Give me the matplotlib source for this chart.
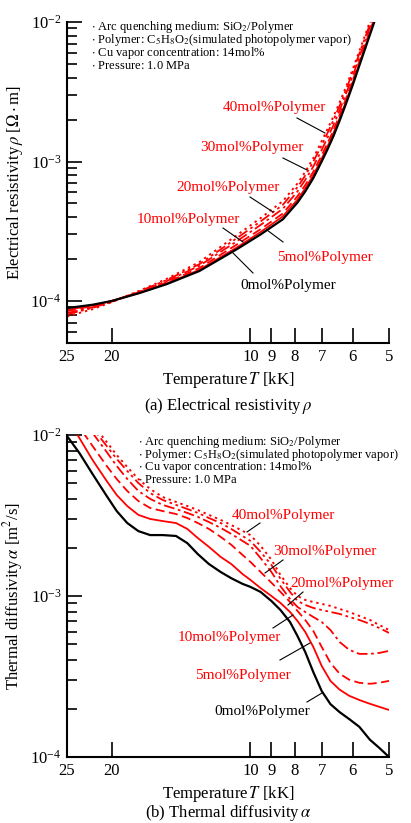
import numpy as np
import matplotlib
matplotlib.use("Agg")
import matplotlib.pyplot as plt
from matplotlib.lines import Line2D
from matplotlib.ticker import FixedLocator, FixedFormatter, NullLocator, LogLocator, LogFormatterMathtext, NullFormatter

plt.rcParams['font.family'] = ['Liberation Serif', 'DejaVu Serif']
plt.rcParams['mathtext.fontset'] = 'stix'

# ---- (a) electrical resistivity [Ohm m] ----
t_a = [25, 22, 20, 17.4, 15.2, 12.9, 10.7, 9.5, 8.5, 7.9, 7.6, 7.3, 7.0, 6.8, 6.6, 6.4, 6.2, 6.0, 5.8, 5.6, 5.4, 5.2]
rho_0 = [8.9e-5, 9.4e-5, 1.0e-4, 1.14e-4, 1.32e-4, 1.64e-4, 2.35e-4, 3.0e-4, 3.85e-4, 5.08e-4, 6.1e-4,
         7.6e-4, 1.0e-3, 1.22e-3, 1.52e-3, 1.96e-3, 2.59e-3, 3.5e-3, 4.86e-3, 6.82e-3, 9.67e-3, 1.39e-2]
rho_5 = [8.63e-5, 9.31e-5, 1.0e-4, 1.146e-4, 1.333e-4, 1.673e-4, 2.42e-4, 3.12e-4, 4.04e-4, 5.33e-4, 6.41e-4,
         7.98e-4, 1.05e-3, 1.28e-3, 1.60e-3, 2.04e-3, 2.69e-3, 3.64e-3, 5.01e-3, 7.02e-3, 9.96e-3, 1.42e-2]
rho_10 = [8.46e-5, 9.21e-5, 1.0e-4, 1.151e-4, 1.36e-4, 1.722e-4, 2.54e-4, 3.27e-4, 4.24e-4, 5.64e-4, 6.77e-4,
          8.44e-4, 1.11e-3, 1.35e-3, 1.67e-3, 2.16e-3, 2.82e-3, 3.78e-3, 5.20e-3, 7.30e-3, 1.025e-2, 1.46e-2]
rho_20 = [8.19e-5, 9.02e-5, 9.9e-5, 1.163e-4, 1.386e-4, 1.788e-4, 2.68e-4, 3.51e-4, 4.58e-4, 6.10e-4, 7.38e-4,
          9.20e-4, 1.21e-3, 1.48e-3, 1.82e-3, 2.33e-3, 3.06e-3, 4.06e-3, 5.59e-3, 7.77e-3, 1.08e-2, 1.53e-2]
rho_30 = [8.01e-5, 8.93e-5, 9.9e-5, 1.174e-4, 1.412e-4, 1.837e-4, 2.82e-4, 3.72e-4, 4.89e-4, 6.55e-4, 7.93e-4,
          9.96e-4, 1.31e-3, 1.60e-3, 1.98e-3, 2.51e-3, 3.26e-3, 4.34e-3, 5.93e-3, 8.18e-3, 1.14e-2, 1.61e-2]
rho_40 = [7.74e-5, 8.74e-5, 9.8e-5, 1.186e-4, 1.439e-4, 1.902e-4, 2.96e-4, 3.93e-4, 5.20e-4, 6.96e-4, 8.42e-4,
          1.056e-3, 1.40e-3, 1.708e-3, 2.10e-3, 2.65e-3, 3.42e-3, 4.55e-3, 6.17e-3, 8.53e-3, 1.18e-2, 1.67e-2]

# ---- (b) thermal diffusivity [m2/s] ----
t_b = [25, 23.5, 22, 20.5, 19.5, 18.5, 17.5, 16.5, 15.5, 14.5, 13.7, 13, 12.3, 11.6, 11, 10.4,
       10, 9.5, 9, 8.6, 8.2, 7.9, 7.6, 7.3, 7.0, 6.7, 6.4, 6.1, 5.8, 5.5, 5.25, 5.0]
alpha_0 = [9.86e-3, 7.73e-3, 5.72e-3, 4.18e-3, 3.37e-3, 2.84e-3, 2.53e-3, 2.39e-3, 2.39e-3, 2.36e-3, 2.13e-3,
           1.82e-3, 1.58e-3, 1.41e-3, 1.29e-3, 1.19e-3, 1.14e-3, 1.06e-3, 9.31e-4, 8.18e-4, 6.89e-4, 5.64e-4,
           4.49e-4, 3.37e-4, 2.57e-4, 2.13e-4, 1.90e-4, 1.72e-4, 1.54e-4, 1.28e-4, 1.14e-4, 1.0e-4]
alpha_5 = [1.257e-2, 9.58e-3, 6.99e-3, 5.18e-3, 4.24e-3, 3.62e-3, 3.19e-3, 3.01e-3, 2.92e-3, 2.84e-3, 2.61e-3,
           2.29e-3, 2.02e-3, 1.75e-3, 1.58e-3, 1.37e-3, 1.26e-3, 1.12e-3, 1.0e-3, 9.05e-4, 7.96e-4, 7.00e-4,
           5.98e-4, 4.83e-4, 3.68e-4, 2.97e-4, 2.62e-4, 2.40e-4, 2.26e-4, 2.14e-4, 2.05e-4, 1.96e-4]
alpha_10 = [1.43e-2, 1.12e-2, 8.54e-3, 6.42e-3, 5.33e-3, 4.49e-3, 3.89e-3, 3.52e-3, 3.37e-3, 3.23e-3, 3.05e-3,
            2.84e-3, 2.61e-3, 2.33e-3, 2.08e-3, 1.80e-3, 1.63e-3, 1.41e-3, 1.21e-3, 1.06e-3, 9.18e-4, 8.08e-4,
            7.10e-4, 6.07e-4, 4.83e-4, 3.84e-4, 3.29e-4, 3.02e-4, 2.89e-4, 2.85e-4, 2.89e-4, 2.97e-4]
alpha_20 = [1.65e-2, 1.35e-2, 1.03e-2, 7.84e-3, 6.42e-3, 5.33e-3, 4.49e-3, 4.01e-3, 3.68e-3, 3.47e-3, 3.28e-3,
            3.10e-3, 2.88e-3, 2.65e-3, 2.43e-3, 2.20e-3, 2.05e-3, 1.72e-3, 1.41e-3, 1.15e-3, 9.59e-4, 8.55e-4,
            7.96e-4, 7.41e-4, 6.90e-4, 6.15e-4, 5.18e-4, 4.63e-4, 4.37e-4, 4.37e-4, 4.43e-4, 4.56e-4]
alpha_30 = [1.75e-2, 1.43e-2, 1.11e-2, 8.54e-3, 7.10e-3, 5.98e-3, 5.03e-3, 4.36e-3, 3.95e-3, 3.68e-3, 3.47e-3,
            3.28e-3, 3.05e-3, 2.84e-3, 2.61e-3, 2.36e-3, 2.20e-3, 1.88e-3, 1.56e-3, 1.28e-3, 1.06e-3, 9.32e-4,
            8.80e-4, 8.43e-4, 8.19e-4, 7.96e-4, 7.74e-4, 7.41e-4, 7.10e-4, 6.71e-4, 6.33e-4, 5.90e-4]
alpha_40 = [1.85e-2, 1.51e-2, 1.17e-2, 9.05e-3, 7.51e-3, 6.33e-3, 5.33e-3, 4.62e-3, 4.12e-3, 3.84e-3, 3.62e-3,
            3.42e-3, 3.19e-3, 2.97e-3, 2.76e-3, 2.54e-3, 2.39e-3, 2.05e-3, 1.68e-3, 1.35e-3, 1.12e-3, 1.0e-3,
            9.45e-4, 9.18e-4, 8.93e-4, 8.68e-4, 8.31e-4, 7.96e-4, 7.52e-4, 7.10e-4, 6.61e-4, 6.15e-4]

labels = ["0mol%Polymer", "5mol%Polymer", "10mol%Polymer", "20mol%Polymer", "30mol%Polymer", "40mol%Polymer"]
x_ticks = [25, 20, 10, 9, 8, 7, 6, 5]
info = ["Arc quenching medium: SiO$_2$/Polymer",
        "Polymer: C$_5$H$_8$O$_2$(simulated photopolymer vapor)",
        "Cu vapor concentration: 14mol%",
        "Pressure: 1.0 MPa"]

colors = ['black', 'red', 'red', 'red', 'red', 'red']
styles = ['-', '-', (0, (5, 2.5)), (0, (6, 2, 1.5, 2)), (0, (6, 2, 1.5, 2, 1.5, 2)), (0, (1.2, 2))]
widths = [1.6, 1.3, 1.3, 1.3, 1.3, 1.4]

W, H = 411, 823


def fpos(x, y):
    # reference pixel -> figure fraction
    return (x / W, 1 - y / H)


def style_axes(ax, ylo, yhi):
    ax.set_xscale('log')
    ax.set_yscale('log')
    ax.set_xlim(25, 5)
    ax.set_ylim(ylo, yhi)
    for s in ['top', 'right']:
        ax.spines[s].set_visible(False)
    for s in ['left', 'bottom']:
        ax.spines[s].set_linewidth(1.5)
    ax.xaxis.set_major_locator(FixedLocator(x_ticks))
    ax.xaxis.set_major_formatter(FixedFormatter([str(t) for t in x_ticks]))
    ax.xaxis.set_minor_locator(NullLocator())
    ax.yaxis.set_major_locator(LogLocator(base=10))
    ax.yaxis.set_major_formatter(LogFormatterMathtext())
    ax.yaxis.set_minor_locator(LogLocator(base=10, subs=np.arange(2, 10)))
    ax.yaxis.set_minor_formatter(NullFormatter())
    ax.tick_params(which='major', direction='in', length=11, width=1.2, labelsize=12, pad=4)
    ax.tick_params(which='minor', direction='in', length=7, width=1.2)
    ax.set_xlabel("Temperature$\\,T$ [kK]", fontsize=12, labelpad=4)


fig = plt.figure(figsize=(W / 100, H / 100), dpi=100)
ax1 = fig.add_axes([67 / W, 1 - 343 / H, 322 / W, 321 / H])
ax2 = fig.add_axes([67 / W, 1 - 757 / H, 322 / W, 322 / H])

rho = [rho_0, rho_5, rho_10, rho_20, rho_30, rho_40]
for i in range(6)[::-1]:
    ax1.plot(t_a, rho[i], color=colors[i], linestyle=styles[i], linewidth=widths[i])
style_axes(ax1, 5e-5, 1e-2)
ax1.set_ylabel("Electrical resistivity$\\,\\rho$ [$\\Omega\\cdot$m]", fontsize=12, labelpad=4)

alpha = [alpha_0, alpha_5, alpha_10, alpha_20, alpha_30, alpha_40]
for i in range(6)[::-1]:
    ax2.plot(t_b, alpha[i], color=colors[i], linestyle=styles[i], linewidth=widths[i])
style_axes(ax2, 1e-4, 1e-2)
ax2.set_ylabel("Thermal diffusivity$\\,\\alpha$ [m$^2$/s]", fontsize=12, labelpad=4)

# info blocks
for k, line in enumerate(info):
    fig.text(*fpos(91, 27 + 13 * k), "$\\cdot$ " + line, fontsize=9, va='center', ha='left')
    fig.text(*fpos(138, 442 + 12.7 * k), "$\\cdot$ " + line, fontsize=9, va='center', ha='left')

# labels with leader lines (reference pixel positions)
text_a = [(288, 285), (325, 257), (188, 220), (228, 188), (252, 147), (274, 108)]
lead_a = [((233, 253), (253, 273)), ((267, 230), (283, 242)), ((223, 228), (243, 242)),
          ((250, 197), (273, 212)), ((283, 158), (307, 170)), ((297, 118), (325, 133))]
text_b = [(262, 712), (243, 675), (229, 638), (342, 583), (325, 552), (283, 515)]
lead_b = [((307, 702), (322, 693)), ((280, 660), (310, 643)), ((273, 628), (293, 615)),
          ((303, 592), (288, 605)), ((283, 560), (265, 573)), ((247, 532), (260, 523))]

for i in range(6):
    for tx, ld in ((text_a[i], lead_a[i]), (text_b[i], lead_b[i])):
        fig.text(*fpos(*tx), labels[i], color=colors[i], fontsize=11, ha='center', va='center')
        p0, p1 = fpos(*ld[0]), fpos(*ld[1])
        fig.add_artist(Line2D([p0[0], p1[0]], [p0[1], p1[1]], transform=fig.transFigure,
                              color='black', linewidth=0.8))

fig.text(*fpos(228, 406), "(a) Electrical resistivity$\\,\\rho$", fontsize=12, ha='center', va='center')
fig.text(*fpos(228, 813), "(b) Thermal diffusivity$\\,\\alpha$", fontsize=12, ha='center', va='center')

fig.savefig("out.png", dpi=100)
